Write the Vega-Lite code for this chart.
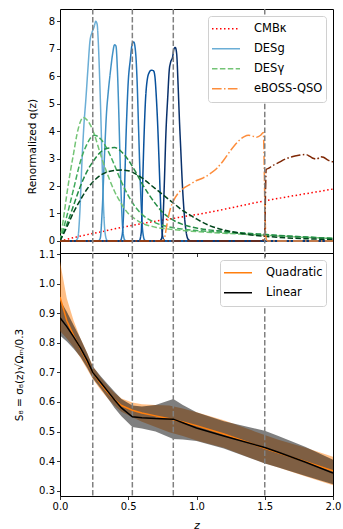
{
"$schema":"https://vega.github.io/schema/vega-lite/v6.json",
"padding":{"left":13,"top":7,"right":0,"bottom":6},
"spacing":0,
"bounds":"flush",
"resolve":{"scale":{"color":"independent","strokeDash":"independent"},"legend":{"color":"independent","strokeDash":"independent"}},
"datasets":{
"v":[{"z":0.24},{"z":0.53},{"z":0.83},{"z":1.5}],
"q":[
{"s":"cmb","p":"CMBκ","z":0,"q":0},{"s":"cmb","p":"CMBκ","z":0.1,"q":0.12},{"s":"cmb","p":"CMBκ","z":0.2,"q":0.23},{"s":"cmb","p":"CMBκ","z":0.3,"q":0.33},{"s":"cmb","p":"CMBκ","z":0.4,"q":0.44},{"s":"cmb","p":"CMBκ","z":0.5,"q":0.54},{"s":"cmb","p":"CMBκ","z":0.6,"q":0.63},{"s":"cmb","p":"CMBκ","z":0.7,"q":0.72},{"s":"cmb","p":"CMBκ","z":0.8,"q":0.8},{"s":"cmb","p":"CMBκ","z":0.9,"q":0.88},{"s":"cmb","p":"CMBκ","z":1.0,"q":0.96},{"s":"cmb","p":"CMBκ","z":1.2,"q":1.15},{"s":"cmb","p":"CMBκ","z":1.4,"q":1.36},{"s":"cmb","p":"CMBκ","z":1.5,"q":1.46},{"s":"cmb","p":"CMBκ","z":1.6,"q":1.55},{"s":"cmb","p":"CMBκ","z":1.8,"q":1.72},{"s":"cmb","p":"CMBκ","z":2.0,"q":1.89},
{"s":"g1","p":"DESg","z":0,"q":0},{"s":"g1","p":"DESg","z":0.11,"q":0},{"s":"g1","p":"DESg","z":0.13,"q":0.1},{"s":"g1","p":"DESg","z":0.145,"q":1.0},{"s":"g1","p":"DESg","z":0.16,"q":2.8},{"s":"g1","p":"DESg","z":0.175,"q":4.2},{"s":"g1","p":"DESg","z":0.19,"q":5.2},{"s":"g1","p":"DESg","z":0.205,"q":6.3},{"s":"g1","p":"DESg","z":0.22,"q":7.3},{"s":"g1","p":"DESg","z":0.235,"q":7.6},{"s":"g1","p":"DESg","z":0.25,"q":7.8},{"s":"g1","p":"DESg","z":0.262,"q":8.0},{"s":"g1","p":"DESg","z":0.272,"q":7.9},{"s":"g1","p":"DESg","z":0.28,"q":7.3},{"s":"g1","p":"DESg","z":0.29,"q":6.0},{"s":"g1","p":"DESg","z":0.3,"q":4.4},{"s":"g1","p":"DESg","z":0.31,"q":2.6},{"s":"g1","p":"DESg","z":0.32,"q":1.1},{"s":"g1","p":"DESg","z":0.33,"q":0.3},{"s":"g1","p":"DESg","z":0.345,"q":0.02},{"s":"g1","p":"DESg","z":0.36,"q":0},{"s":"g1","p":"DESg","z":2,"q":0},
{"s":"g2","p":"DESg","z":0,"q":0},{"s":"g2","p":"DESg","z":0.28,"q":0},{"s":"g2","p":"DESg","z":0.295,"q":0.1},{"s":"g2","p":"DESg","z":0.31,"q":1.2},{"s":"g2","p":"DESg","z":0.325,"q":3.0},{"s":"g2","p":"DESg","z":0.34,"q":4.6},{"s":"g2","p":"DESg","z":0.355,"q":5.5},{"s":"g2","p":"DESg","z":0.37,"q":6.2},{"s":"g2","p":"DESg","z":0.385,"q":6.8},{"s":"g2","p":"DESg","z":0.4,"q":7.15},{"s":"g2","p":"DESg","z":0.41,"q":7.1},{"s":"g2","p":"DESg","z":0.42,"q":6.3},{"s":"g2","p":"DESg","z":0.43,"q":4.8},{"s":"g2","p":"DESg","z":0.44,"q":3.0},{"s":"g2","p":"DESg","z":0.45,"q":1.4},{"s":"g2","p":"DESg","z":0.46,"q":0.4},{"s":"g2","p":"DESg","z":0.475,"q":0.03},{"s":"g2","p":"DESg","z":0.49,"q":0},{"s":"g2","p":"DESg","z":2,"q":0},
{"s":"g3","p":"DESg","z":0,"q":0},{"s":"g3","p":"DESg","z":0.44,"q":0},{"s":"g3","p":"DESg","z":0.455,"q":0.2},{"s":"g3","p":"DESg","z":0.47,"q":1.5},{"s":"g3","p":"DESg","z":0.485,"q":4.0},{"s":"g3","p":"DESg","z":0.5,"q":5.8},{"s":"g3","p":"DESg","z":0.515,"q":6.6},{"s":"g3","p":"DESg","z":0.53,"q":7.2},{"s":"g3","p":"DESg","z":0.54,"q":7.25},{"s":"g3","p":"DESg","z":0.555,"q":6.8},{"s":"g3","p":"DESg","z":0.565,"q":5.8},{"s":"g3","p":"DESg","z":0.575,"q":4.2},{"s":"g3","p":"DESg","z":0.585,"q":2.6},{"s":"g3","p":"DESg","z":0.595,"q":1.3},{"s":"g3","p":"DESg","z":0.605,"q":0.4},{"s":"g3","p":"DESg","z":0.62,"q":0.03},{"s":"g3","p":"DESg","z":0.635,"q":0},{"s":"g3","p":"DESg","z":2,"q":0},
{"s":"g4","p":"DESg","z":0,"q":0},{"s":"g4","p":"DESg","z":0.58,"q":0},{"s":"g4","p":"DESg","z":0.595,"q":0.3},{"s":"g4","p":"DESg","z":0.605,"q":2.0},{"s":"g4","p":"DESg","z":0.615,"q":3.7},{"s":"g4","p":"DESg","z":0.625,"q":5.0},{"s":"g4","p":"DESg","z":0.64,"q":5.9},{"s":"g4","p":"DESg","z":0.655,"q":6.15},{"s":"g4","p":"DESg","z":0.67,"q":6.22},{"s":"g4","p":"DESg","z":0.685,"q":6.2},{"s":"g4","p":"DESg","z":0.695,"q":6.0},{"s":"g4","p":"DESg","z":0.705,"q":5.3},{"s":"g4","p":"DESg","z":0.715,"q":4.3},{"s":"g4","p":"DESg","z":0.725,"q":3.0},{"s":"g4","p":"DESg","z":0.735,"q":1.6},{"s":"g4","p":"DESg","z":0.745,"q":0.5},{"s":"g4","p":"DESg","z":0.76,"q":0.05},{"s":"g4","p":"DESg","z":0.775,"q":0},{"s":"g4","p":"DESg","z":2,"q":0},
{"s":"g5","p":"DESg","z":0,"q":0},{"s":"g5","p":"DESg","z":0.73,"q":0},{"s":"g5","p":"DESg","z":0.745,"q":0.1},{"s":"g5","p":"DESg","z":0.755,"q":0.8},{"s":"g5","p":"DESg","z":0.765,"q":2.2},{"s":"g5","p":"DESg","z":0.775,"q":3.8},{"s":"g5","p":"DESg","z":0.79,"q":5.3},{"s":"g5","p":"DESg","z":0.8,"q":6.2},{"s":"g5","p":"DESg","z":0.81,"q":6.5},{"s":"g5","p":"DESg","z":0.825,"q":6.7},{"s":"g5","p":"DESg","z":0.835,"q":7.0},{"s":"g5","p":"DESg","z":0.845,"q":7.05},{"s":"g5","p":"DESg","z":0.855,"q":6.8},{"s":"g5","p":"DESg","z":0.865,"q":5.7},{"s":"g5","p":"DESg","z":0.875,"q":4.4},{"s":"g5","p":"DESg","z":0.885,"q":3.3},{"s":"g5","p":"DESg","z":0.895,"q":2.2},{"s":"g5","p":"DESg","z":0.91,"q":1.0},{"s":"g5","p":"DESg","z":0.925,"q":0.3},{"s":"g5","p":"DESg","z":0.94,"q":0.05},{"s":"g5","p":"DESg","z":0.96,"q":0},{"s":"g5","p":"DESg","z":2,"q":0},
{"s":"y1","p":"DESγ","z":0,"q":0},{"s":"y1","p":"DESγ","z":0.025,"q":0.8},{"s":"y1","p":"DESγ","z":0.05,"q":1.7},{"s":"y1","p":"DESγ","z":0.075,"q":2.5},{"s":"y1","p":"DESγ","z":0.1,"q":3.2},{"s":"y1","p":"DESγ","z":0.125,"q":3.9},{"s":"y1","p":"DESγ","z":0.15,"q":4.35},{"s":"y1","p":"DESγ","z":0.17,"q":4.5},{"s":"y1","p":"DESγ","z":0.2,"q":4.4},{"s":"y1","p":"DESγ","z":0.225,"q":4.2},{"s":"y1","p":"DESγ","z":0.25,"q":3.9},{"s":"y1","p":"DESγ","z":0.3,"q":3.1},{"s":"y1","p":"DESγ","z":0.35,"q":2.4},{"s":"y1","p":"DESγ","z":0.4,"q":1.8},{"s":"y1","p":"DESγ","z":0.45,"q":1.35},{"s":"y1","p":"DESγ","z":0.5,"q":1.0},{"s":"y1","p":"DESγ","z":0.55,"q":0.8},{"s":"y1","p":"DESγ","z":0.6,"q":0.65},{"s":"y1","p":"DESγ","z":0.7,"q":0.5},{"s":"y1","p":"DESγ","z":0.8,"q":0.43},{"s":"y1","p":"DESγ","z":0.9,"q":0.38},{"s":"y1","p":"DESγ","z":1.0,"q":0.34},{"s":"y1","p":"DESγ","z":1.2,"q":0.28},{"s":"y1","p":"DESγ","z":1.4,"q":0.23},{"s":"y1","p":"DESγ","z":1.5,"q":0.21},{"s":"y1","p":"DESγ","z":1.6,"q":0.18},{"s":"y1","p":"DESγ","z":1.8,"q":0.13},{"s":"y1","p":"DESγ","z":2.0,"q":0.09},
{"s":"y2","p":"DESγ","z":0,"q":0},{"s":"y2","p":"DESγ","z":0.05,"q":0.9},{"s":"y2","p":"DESγ","z":0.1,"q":1.9},{"s":"y2","p":"DESγ","z":0.15,"q":2.9},{"s":"y2","p":"DESγ","z":0.2,"q":3.55},{"s":"y2","p":"DESγ","z":0.25,"q":3.85},{"s":"y2","p":"DESγ","z":0.3,"q":3.7},{"s":"y2","p":"DESγ","z":0.35,"q":3.3},{"s":"y2","p":"DESγ","z":0.4,"q":2.75},{"s":"y2","p":"DESγ","z":0.45,"q":2.15},{"s":"y2","p":"DESγ","z":0.5,"q":1.65},{"s":"y2","p":"DESγ","z":0.55,"q":1.25},{"s":"y2","p":"DESγ","z":0.6,"q":0.97},{"s":"y2","p":"DESγ","z":0.7,"q":0.66},{"s":"y2","p":"DESγ","z":0.8,"q":0.51},{"s":"y2","p":"DESγ","z":0.9,"q":0.43},{"s":"y2","p":"DESγ","z":1.0,"q":0.38},{"s":"y2","p":"DESγ","z":1.2,"q":0.31},{"s":"y2","p":"DESγ","z":1.4,"q":0.25},{"s":"y2","p":"DESγ","z":1.5,"q":0.22},{"s":"y2","p":"DESγ","z":1.6,"q":0.19},{"s":"y2","p":"DESγ","z":1.8,"q":0.14},{"s":"y2","p":"DESγ","z":2.0,"q":0.1},
{"s":"y3","p":"DESγ","z":0,"q":0},{"s":"y3","p":"DESγ","z":0.05,"q":0.6},{"s":"y3","p":"DESγ","z":0.1,"q":1.3},{"s":"y3","p":"DESγ","z":0.15,"q":2.0},{"s":"y3","p":"DESγ","z":0.2,"q":2.55},{"s":"y3","p":"DESγ","z":0.25,"q":2.95},{"s":"y3","p":"DESγ","z":0.3,"q":3.25},{"s":"y3","p":"DESγ","z":0.35,"q":3.38},{"s":"y3","p":"DESγ","z":0.4,"q":3.4},{"s":"y3","p":"DESγ","z":0.45,"q":3.25},{"s":"y3","p":"DESγ","z":0.5,"q":2.95},{"s":"y3","p":"DESγ","z":0.55,"q":2.55},{"s":"y3","p":"DESγ","z":0.6,"q":2.1},{"s":"y3","p":"DESγ","z":0.65,"q":1.7},{"s":"y3","p":"DESγ","z":0.7,"q":1.35},{"s":"y3","p":"DESγ","z":0.75,"q":1.05},{"s":"y3","p":"DESγ","z":0.8,"q":0.85},{"s":"y3","p":"DESγ","z":0.85,"q":0.7},{"s":"y3","p":"DESγ","z":0.9,"q":0.6},{"s":"y3","p":"DESγ","z":1.0,"q":0.47},{"s":"y3","p":"DESγ","z":1.2,"q":0.35},{"s":"y3","p":"DESγ","z":1.4,"q":0.27},{"s":"y3","p":"DESγ","z":1.5,"q":0.24},{"s":"y3","p":"DESγ","z":1.6,"q":0.2},{"s":"y3","p":"DESγ","z":1.8,"q":0.14},{"s":"y3","p":"DESγ","z":2.0,"q":0.09},
{"s":"y4","p":"DESγ","z":0,"q":0},{"s":"y4","p":"DESγ","z":0.05,"q":0.5},{"s":"y4","p":"DESγ","z":0.1,"q":1.05},{"s":"y4","p":"DESγ","z":0.15,"q":1.5},{"s":"y4","p":"DESγ","z":0.2,"q":1.9},{"s":"y4","p":"DESγ","z":0.25,"q":2.2},{"s":"y4","p":"DESγ","z":0.3,"q":2.4},{"s":"y4","p":"DESγ","z":0.35,"q":2.52},{"s":"y4","p":"DESγ","z":0.4,"q":2.57},{"s":"y4","p":"DESγ","z":0.45,"q":2.58},{"s":"y4","p":"DESγ","z":0.5,"q":2.56},{"s":"y4","p":"DESγ","z":0.55,"q":2.45},{"s":"y4","p":"DESγ","z":0.6,"q":2.3},{"s":"y4","p":"DESγ","z":0.65,"q":2.1},{"s":"y4","p":"DESγ","z":0.7,"q":1.9},{"s":"y4","p":"DESγ","z":0.75,"q":1.7},{"s":"y4","p":"DESγ","z":0.8,"q":1.5},{"s":"y4","p":"DESγ","z":0.85,"q":1.3},{"s":"y4","p":"DESγ","z":0.9,"q":1.1},{"s":"y4","p":"DESγ","z":0.95,"q":0.95},{"s":"y4","p":"DESγ","z":1.0,"q":0.8},{"s":"y4","p":"DESγ","z":1.1,"q":0.55},{"s":"y4","p":"DESγ","z":1.2,"q":0.4},{"s":"y4","p":"DESγ","z":1.3,"q":0.3},{"s":"y4","p":"DESγ","z":1.4,"q":0.22},{"s":"y4","p":"DESγ","z":1.5,"q":0.17},{"s":"y4","p":"DESγ","z":1.6,"q":0.13},{"s":"y4","p":"DESγ","z":1.8,"q":0.08},{"s":"y4","p":"DESγ","z":2.0,"q":0.05},
{"s":"e1","p":"eBOSS-QSO","z":0,"q":0},{"s":"e1","p":"eBOSS-QSO","z":0.75,"q":0},{"s":"e1","p":"eBOSS-QSO","z":0.765,"q":0.1},{"s":"e1","p":"eBOSS-QSO","z":0.78,"q":0.5},{"s":"e1","p":"eBOSS-QSO","z":0.795,"q":0.9},{"s":"e1","p":"eBOSS-QSO","z":0.81,"q":1.2},{"s":"e1","p":"eBOSS-QSO","z":0.83,"q":1.45},{"s":"e1","p":"eBOSS-QSO","z":0.86,"q":1.7},{"s":"e1","p":"eBOSS-QSO","z":0.9,"q":1.9},{"s":"e1","p":"eBOSS-QSO","z":0.95,"q":2.05},{"s":"e1","p":"eBOSS-QSO","z":1.0,"q":2.2},{"s":"e1","p":"eBOSS-QSO","z":1.05,"q":2.3},{"s":"e1","p":"eBOSS-QSO","z":1.1,"q":2.45},{"s":"e1","p":"eBOSS-QSO","z":1.15,"q":2.65},{"s":"e1","p":"eBOSS-QSO","z":1.2,"q":2.95},{"s":"e1","p":"eBOSS-QSO","z":1.25,"q":3.3},{"s":"e1","p":"eBOSS-QSO","z":1.3,"q":3.6},{"s":"e1","p":"eBOSS-QSO","z":1.35,"q":3.8},{"s":"e1","p":"eBOSS-QSO","z":1.38,"q":3.85},{"s":"e1","p":"eBOSS-QSO","z":1.41,"q":3.82},{"s":"e1","p":"eBOSS-QSO","z":1.44,"q":3.78},{"s":"e1","p":"eBOSS-QSO","z":1.47,"q":3.85},{"s":"e1","p":"eBOSS-QSO","z":1.49,"q":3.95},{"s":"e1","p":"eBOSS-QSO","z":1.495,"q":3.0},{"s":"e1","p":"eBOSS-QSO","z":1.5,"q":1.5},{"s":"e1","p":"eBOSS-QSO","z":1.505,"q":0.5},{"s":"e1","p":"eBOSS-QSO","z":1.51,"q":0.1},{"s":"e1","p":"eBOSS-QSO","z":1.52,"q":0},{"s":"e1","p":"eBOSS-QSO","z":2,"q":0},
{"s":"e2","p":"eBOSS-QSO","z":0,"q":0},{"s":"e2","p":"eBOSS-QSO","z":1.48,"q":0},{"s":"e2","p":"eBOSS-QSO","z":1.49,"q":0.05},{"s":"e2","p":"eBOSS-QSO","z":1.5,"q":0.3},{"s":"e2","p":"eBOSS-QSO","z":1.505,"q":1.6},{"s":"e2","p":"eBOSS-QSO","z":1.51,"q":2.6},{"s":"e2","p":"eBOSS-QSO","z":1.53,"q":2.65},{"s":"e2","p":"eBOSS-QSO","z":1.56,"q":2.75},{"s":"e2","p":"eBOSS-QSO","z":1.6,"q":2.85},{"s":"e2","p":"eBOSS-QSO","z":1.65,"q":2.98},{"s":"e2","p":"eBOSS-QSO","z":1.7,"q":3.07},{"s":"e2","p":"eBOSS-QSO","z":1.75,"q":3.12},{"s":"e2","p":"eBOSS-QSO","z":1.8,"q":3.15},{"s":"e2","p":"eBOSS-QSO","z":1.83,"q":3.08},{"s":"e2","p":"eBOSS-QSO","z":1.86,"q":3.0},{"s":"e2","p":"eBOSS-QSO","z":1.88,"q":2.98},{"s":"e2","p":"eBOSS-QSO","z":1.91,"q":3.07},{"s":"e2","p":"eBOSS-QSO","z":1.93,"q":3.05},{"s":"e2","p":"eBOSS-QSO","z":1.96,"q":2.95},{"s":"e2","p":"eBOSS-QSO","z":2.0,"q":2.88}
],
"s8":[
{"f":"Quadratic","z":0,"m":0.955,"lo":0.84,"hi":1.075},{"f":"Quadratic","z":0.05,"m":0.875,"lo":0.815,"hi":0.95},{"f":"Quadratic","z":0.1,"m":0.825,"lo":0.785,"hi":0.875},{"f":"Quadratic","z":0.15,"m":0.78,"lo":0.75,"hi":0.815},{"f":"Quadratic","z":0.2,"m":0.735,"lo":0.71,"hi":0.765},{"f":"Quadratic","z":0.24,"m":0.7,"lo":0.678,"hi":0.722},{"f":"Quadratic","z":0.3,"m":0.66,"lo":0.64,"hi":0.682},{"f":"Quadratic","z":0.35,"m":0.632,"lo":0.612,"hi":0.655},{"f":"Quadratic","z":0.4,"m":0.607,"lo":0.587,"hi":0.63},{"f":"Quadratic","z":0.45,"m":0.588,"lo":0.567,"hi":0.612},{"f":"Quadratic","z":0.53,"m":0.572,"lo":0.548,"hi":0.598},{"f":"Quadratic","z":0.6,"m":0.563,"lo":0.533,"hi":0.592},{"f":"Quadratic","z":0.7,"m":0.553,"lo":0.515,"hi":0.59},{"f":"Quadratic","z":0.8,"m":0.543,"lo":0.498,"hi":0.588},{"f":"Quadratic","z":0.9,"m":0.532,"lo":0.485,"hi":0.578},{"f":"Quadratic","z":1.0,"m":0.52,"lo":0.47,"hi":0.565},{"f":"Quadratic","z":1.2,"m":0.492,"lo":0.445,"hi":0.538},{"f":"Quadratic","z":1.4,"m":0.46,"lo":0.41,"hi":0.505},{"f":"Quadratic","z":1.5,"m":0.443,"lo":0.393,"hi":0.488},{"f":"Quadratic","z":1.6,"m":0.428,"lo":0.378,"hi":0.472},{"f":"Quadratic","z":1.8,"m":0.398,"lo":0.348,"hi":0.445},{"f":"Quadratic","z":2.0,"m":0.367,"lo":0.318,"hi":0.415},
{"f":"Linear","z":0,"m":0.885,"lo":0.825,"hi":0.945},{"f":"Linear","z":0.05,"m":0.855,"lo":0.805,"hi":0.905},{"f":"Linear","z":0.1,"m":0.82,"lo":0.78,"hi":0.86},{"f":"Linear","z":0.15,"m":0.783,"lo":0.752,"hi":0.815},{"f":"Linear","z":0.2,"m":0.74,"lo":0.715,"hi":0.765},{"f":"Linear","z":0.24,"m":0.7,"lo":0.68,"hi":0.72},{"f":"Linear","z":0.3,"m":0.665,"lo":0.645,"hi":0.686},{"f":"Linear","z":0.35,"m":0.636,"lo":0.613,"hi":0.66},{"f":"Linear","z":0.4,"m":0.607,"lo":0.58,"hi":0.635},{"f":"Linear","z":0.45,"m":0.58,"lo":0.552,"hi":0.61},{"f":"Linear","z":0.53,"m":0.55,"lo":0.515,"hi":0.588},{"f":"Linear","z":0.6,"m":0.547,"lo":0.51,"hi":0.585},{"f":"Linear","z":0.7,"m":0.544,"lo":0.5,"hi":0.59},{"f":"Linear","z":0.83,"m":0.542,"lo":0.475,"hi":0.61},{"f":"Linear","z":0.9,"m":0.53,"lo":0.473,"hi":0.59},{"f":"Linear","z":1.0,"m":0.512,"lo":0.468,"hi":0.565},{"f":"Linear","z":1.2,"m":0.485,"lo":0.443,"hi":0.535},{"f":"Linear","z":1.5,"m":0.446,"lo":0.392,"hi":0.503},{"f":"Linear","z":1.6,"m":0.43,"lo":0.378,"hi":0.485},{"f":"Linear","z":1.8,"m":0.396,"lo":0.35,"hi":0.448},{"f":"Linear","z":2.0,"m":0.36,"lo":0.322,"hi":0.405}
]
},
"vconcat":[
{
"width":273,"height":244,
"layer":[
{"data":{"name":"q"},
"mark":{"type":"line","strokeWidth":1.5,"clip":true,"interpolate":"monotone"},
"encoding":{
"x":{"field":"z","type":"quantitative","scale":{"domain":[0,2],"nice":false,"zero":false},"axis":{"values":[0,0.5,1,1.5,2],"tickCount":20,"labels":false,"title":null}},
"y":{"field":"q","type":"quantitative","scale":{"domain":[-0.44,8.45],"nice":false,"zero":false},"axis":{"values":[0,1,2,3,4,5,6,7,8],"tickCount":20,"format":"d","labelOverlap":false,"labelFlush":false,"title":"Renormalized q(z)","titleX":-24.7,"titleY":137,"titleBaseline":"alphabetic"}},
"color":{"field":"s","type":"nominal","scale":{"domain":["cmb","g1","g2","g3","g4","g5","y1","y2","y3","y4","e1","e2"],"range":["#ff0000","#6baed6","#4292c6","#2171b5","#08519c","#08306b","#74c476","#41ab5d","#238b45","#00441b","#fd8d3c","#7f2704"]},"legend":null},
"strokeDash":{"field":"p","type":"nominal","scale":{"domain":["CMBκ","DESg","DESγ","eBOSS-QSO"],"range":[[1.5,2.5],[1,0],[5.5,2.4],[9.6,2.4,1.5,2.4]]},
"legend":{"title":null,"orient":"top-right","offset":7,"encode":{"symbols":{"update":{"stroke":{"signal":"datum.value === 'CMBκ' ? '#ff0000' : datum.value === 'DESg' ? '#6baed6' : datum.value === 'DESγ' ? '#74c476' : '#fd8d3c'"}}}}}}
}},
{"data":{"name":"v"},"mark":{"type":"rule","color":"#808080","strokeWidth":1.5,"strokeDash":[5.5,2.4]},"encoding":{"x":{"field":"z","type":"quantitative"}}}
]
},
{
"width":273,"height":243,
"layer":[
{"data":{"name":"s8"},"transform":[{"filter":"datum.f === 'Quadratic'"}],"mark":{"type":"area","color":"#ff7f0e","opacity":0.5,"clip":true},
"encoding":{
"x":{"field":"z","type":"quantitative","scale":{"domain":[0,2],"nice":false,"zero":false},"axis":{"values":[0,0.5,1,1.5,2],"tickCount":20,"format":".1f","labelOverlap":false,"labelFlush":false,"title":"z","titleFontStyle":"italic","titleBaseline":"alphabetic","titleY":32}},
"y":{"field":"lo","type":"quantitative","scale":{"domain":[0.282,1.104],"nice":false,"zero":false},"axis":{"values":[0.3,0.4,0.5,0.6,0.7,0.8,0.9,1.0,1.1],"tickCount":20,"format":".1f","labelOverlap":false,"labelFlush":false,"title":"S₈ = σ₈(z)√Ωₘ/0.3","titleX":-38,"titleBaseline":"alphabetic"}},
"y2":{"field":"hi"}}},
{"data":{"name":"s8"},"transform":[{"filter":"datum.f === 'Linear'"}],"mark":{"type":"area","color":"#000000","opacity":0.5,"clip":true},
"encoding":{"x":{"field":"z","type":"quantitative"},"y":{"field":"lo","type":"quantitative"},"y2":{"field":"hi"}}},
{"data":{"name":"v"},"mark":{"type":"rule","color":"#808080","strokeWidth":1.5,"strokeDash":[5.5,2.4]},"encoding":{"x":{"field":"z","type":"quantitative"}}},
{"data":{"name":"s8"},"mark":{"type":"line","strokeWidth":1.5,"clip":true},
"encoding":{"x":{"field":"z","type":"quantitative"},"y":{"field":"m","type":"quantitative"},
"color":{"field":"f","type":"nominal","scale":{"domain":["Quadratic","Linear"],"range":["#ff7f0e","#000000"]},"legend":{"title":null,"orient":"top-right","offset":7}}}}
]
}
],
"config":{
"font":"DejaVu Sans",
"view":{"stroke":"#000","strokeWidth":1},
"axis":{"domain":false,"grid":false,"labelOverlap":false,"labelFlush":false,"tickColor":"#000","tickSize":3.5,"tickWidth":0.8,"labelColor":"#000","labelFontSize":10,"labelPadding":2,"titleColor":"#000","titleFontWeight":"normal","titleFontSize":10.5,"labelFont":"DejaVu Sans","titleFont":"DejaVu Sans"},
"legend":{"labelFontSize":11.5,"labelColor":"#000","labelFont":"DejaVu Sans","fillColor":"#ffffff","strokeColor":"#d0d0d0","cornerRadius":3,"padding":3,"titlePadding":0,"clipHeight":19.5,"rowPadding":0,"symbolStrokeWidth":1.5,"symbolSize":400,"symbolOffset":4,"labelOffset":17,"symbolType":"M-1.4,0H1.4"}
}
}
